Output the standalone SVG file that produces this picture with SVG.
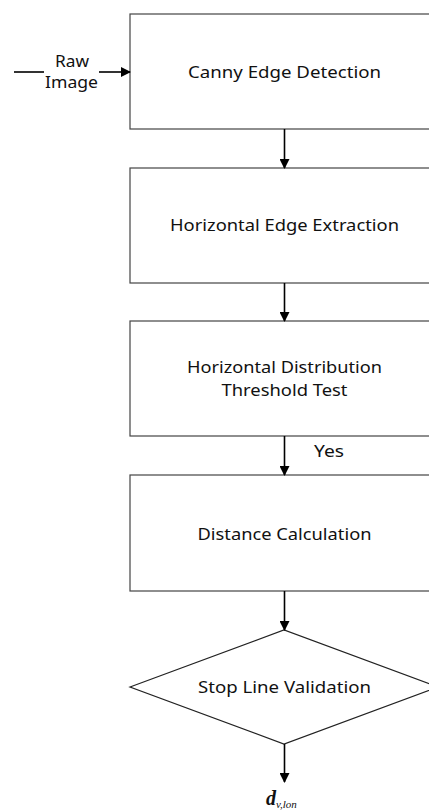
<svg xmlns="http://www.w3.org/2000/svg" width="429" height="812" viewBox="0 0 429 812">
<style>
.box{fill:#fff;stroke:#444;stroke-width:1.2}
.lbl{font-family:"Noto Sans","Open Sans",sans-serif;font-size:17px;fill:#111;text-anchor:middle}
.con{stroke:#000;stroke-width:1.6;fill:none}
</style>
<defs>
<marker id="ah" markerWidth="10" markerHeight="10" refX="9" refY="5" orient="auto" markerUnits="userSpaceOnUse">
<path d="M0,0 L10,5 L0,10 Z" fill="#000"/>
</marker>
</defs>
<rect width="429" height="812" fill="#fff"/>
<g id="canny">
<rect class="box" x="130" y="14" width="308" height="115"/>
<text class="lbl" x="284.5" y="78" textLength="193" lengthAdjust="spacingAndGlyphs">Canny Edge Detection</text>
</g>
<g id="horiz-edge">
<rect class="box" x="130" y="168" width="308" height="115"/>
<text class="lbl" x="284.5" y="231" textLength="229" lengthAdjust="spacingAndGlyphs">Horizontal Edge Extraction</text>
</g>
<g id="threshold">
<rect class="box" x="130" y="321" width="308" height="115"/>
<text class="lbl" x="284.5" y="373" textLength="195" lengthAdjust="spacingAndGlyphs">Horizontal Distribution</text>
<text class="lbl" x="284.5" y="396" textLength="126" lengthAdjust="spacingAndGlyphs">Threshold Test</text>
</g>
<g id="distance">
<rect class="box" x="130" y="475" width="308" height="116"/>
<text class="lbl" x="284.5" y="540" textLength="174" lengthAdjust="spacingAndGlyphs">Distance Calculation</text>
</g>
<g id="validation">
<polygon class="box" points="130,687 284,630 438,687 284,744" style="stroke:#222"/>
<text class="lbl" x="284.5" y="693" textLength="173" lengthAdjust="spacingAndGlyphs">Stop Line Validation</text>
</g>
<g id="raw-image">
<text class="lbl" x="72" y="67" textLength="34" lengthAdjust="spacingAndGlyphs">Raw</text>
<text class="lbl" x="71.5" y="88" textLength="53" lengthAdjust="spacingAndGlyphs">Image</text>
</g>
<g id="output">
<text x="266" y="805" font-family="Liberation Serif,serif" font-style="italic" font-weight="bold" font-size="20" fill="#111">d<tspan font-size="11" font-weight="normal" dy="3">v,lon</tspan></text>
</g>
<g id="connectors">
<line class="con" x1="14" y1="72" x2="44" y2="72"/>
<line class="con" x1="99" y1="72" x2="130" y2="72" marker-end="url(#ah)"/>
<line class="con" x1="284.5" y1="129" x2="284.5" y2="168" marker-end="url(#ah)"/>
<line class="con" x1="284.5" y1="283" x2="284.5" y2="321" marker-end="url(#ah)"/>
<line class="con" x1="284.5" y1="436" x2="284.5" y2="475" marker-end="url(#ah)"/>
<text class="lbl" x="329" y="457" textLength="30" lengthAdjust="spacingAndGlyphs">Yes</text>
<line class="con" x1="284.5" y1="591" x2="284.5" y2="630" marker-end="url(#ah)"/>
<line class="con" x1="284.5" y1="744" x2="284.5" y2="782" marker-end="url(#ah)"/>
</g>
</svg>
